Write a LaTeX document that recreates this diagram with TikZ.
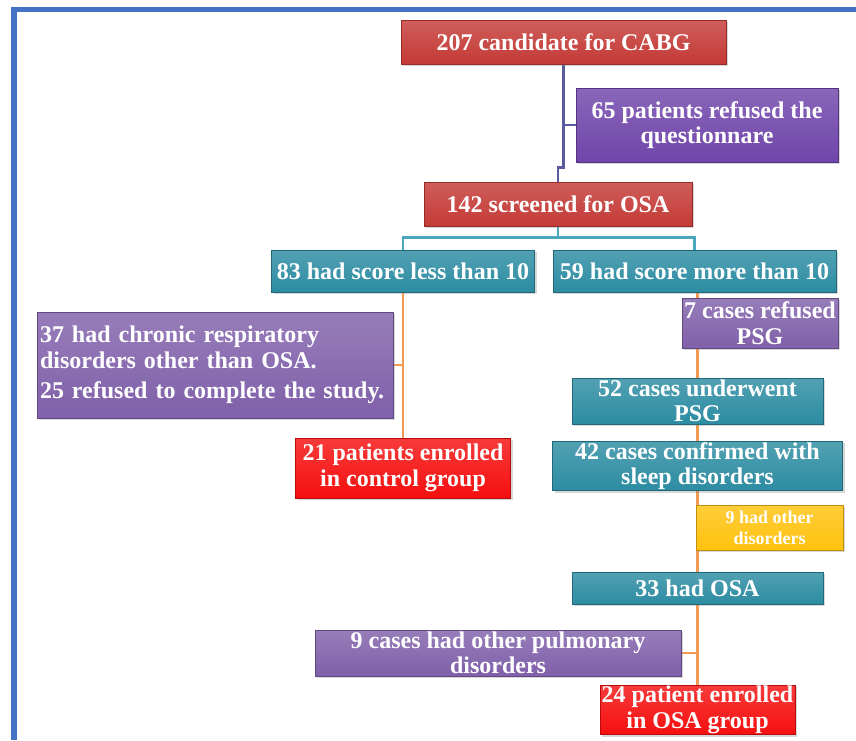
\documentclass[tikz,border=0pt]{standalone}
\usepackage{fontspec}
\setmainfont{Liberation Serif}
\usetikzlibrary{shadows,backgrounds}
\definecolor{frameblue}{HTML}{4472C4}
\definecolor{darkred}{HTML}{C43A36}
\definecolor{brightred}{HTML}{F50F0F}
\definecolor{deeppurple}{HTML}{7045AA}
\definecolor{softpurple}{HTML}{8060AA}
\definecolor{tealbox}{HTML}{2C8CA2}
\definecolor{goldbox}{HTML}{FFC20E}
\definecolor{linkpurple}{HTML}{5A5A9E}
\definecolor{linkteal}{HTML}{4BA6BE}
\definecolor{linkorange}{HTML}{F29A52}
\tikzset{
  box/.style={
    rectangle,
    draw=#1!75!black,
    line width=0.6pt,
    top color=#1!82!white,
    bottom color=#1,
    text=white,
    align=center,
    inner sep=1pt,
    font=\bfseries\fontsize{24}{25.5}\selectfont,
    drop shadow={opacity=0.3, shadow xshift=2pt, shadow yshift=-2pt}
  },
  link/.style={
    draw=#1,
    line width=2.6pt
  }
}

\begin{document}
\begin{tikzpicture}[x=1pt,y=-1pt]
  \useasboundingbox (0,0) rectangle (856,740);

  % frame
  \draw[frameblue, line width=5.5pt] (14,740) -- (14,9.5) -- (856,9.5);

  % top part
  \node[box=darkred, minimum width=325pt, minimum height=44pt] (cand) at (563.5,42) {207 candidate for CABG};
  \node[box=deeppurple, minimum width=262pt, minimum height=74pt] (refq) at (707,125) {65 patients refused the\\questionnare};
  \node[box=darkred, minimum width=268pt, minimum height=44pt] (screen) at (558,204) {142 screened for OSA};

  % score split
  \node[box=tealbox, minimum width=263pt, minimum height=42pt] (low) at (403,271) {83 had score less than 10};
  \node[box=tealbox, minimum width=283pt, minimum height=42pt] (high) at (694.5,271) {59 had score more than 10};

  % control arm
  \node[box=softpurple, minimum width=356pt, minimum height=106pt, text width=350pt, align=left] (excl) at (215,365)
    {\makebox[\linewidth][s]{37 had chronic respiratory}\\disorders other than OSA.\\[5pt]25 refused to complete the study.};
  \node[box=brightred, minimum width=215pt, minimum height=60pt] (control) at (403,468) {21 patients enrolled\\in control group};

  % OSA arm
  \node[box=softpurple, minimum width=156pt, minimum height=50pt] (refpsg) at (760,323) {7 cases refused\\PSG};
  \node[box=tealbox, minimum width=251pt, minimum height=46pt] (psg) at (697.5,401) {52 cases underwent\\PSG};
  \node[box=tealbox, minimum width=290pt, minimum height=46pt] (sleep) at (697.5,466) {42 cases confirmed with\\sleep disorders};
  \node[box=goldbox, minimum width=147pt, minimum height=45pt, font=\bfseries\fontsize{18}{21}\selectfont] (other) at (769.5,527.5) {9 had other\\disorders};
  \node[box=tealbox, minimum width=251pt, minimum height=32pt] (osa) at (697.5,588) {33 had OSA};
  \node[box=softpurple, minimum width=366pt, minimum height=46pt] (pulm) at (498,653) {9 cases had other pulmonary\\disorders};
  \node[box=brightred, minimum width=195pt, minimum height=48pt] (osagroup) at (697.5,710) {24 patient enrolled\\in OSA group};

  % connectors, behind the boxes
  \begin{pgfonlayer}{background}
    \fill[white] (0,0) rectangle (856,740);
    \draw[link=linkpurple] (cand.south) -- ++(0,103) -| (screen.north);
    \draw[link=linkpurple] (refq.west) -- (refq.west -| cand.south);
    \draw[link=linkteal] (screen.south) -- ++(0,11) -| (low.north);
    \draw[link=linkteal] (screen.south) -- ++(0,11) -| (high.north);
    \draw[link=linkorange] (low.south) -- (control.north);
    \draw[link=linkorange] (excl.east) -- (excl.east -| control.north);
    \draw[link=linkorange] (high.south -| osagroup.north) -- (osagroup.north);
    \draw[link=linkorange] (pulm.east) -- (pulm.east -| osagroup.north);
  \end{pgfonlayer}
\end{tikzpicture}
\end{document}
